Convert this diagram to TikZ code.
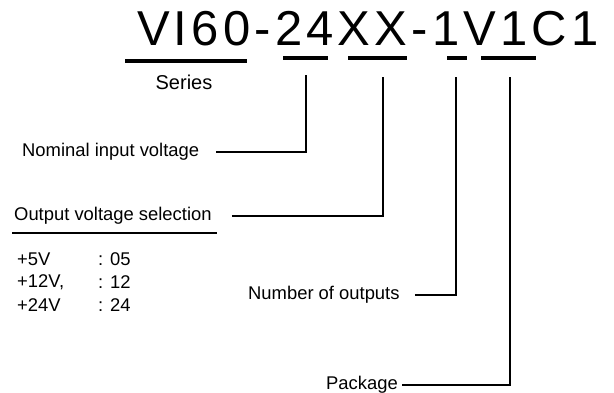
\documentclass[tikz,border=0pt]{standalone}
\usepackage{fontspec}
\setmainfont{Liberation Sans}
\newfontfamily\codefont[LetterSpace=8.5]{Liberation Sans}
\usetikzlibrary{positioning}

\tikzset{
  lbl/.style={font=\fontsize{18.4}{21}\selectfont, inner sep=0pt},
  bar/.style={line width=4.5pt},
  lead/.style={line width=1.1pt}
}

\begin{document}
\begin{tikzpicture}[x=1pt,y=-1pt]
		\useasboundingbox (0,0) rectangle (614,393);
		% model code
		\node[anchor=base west, inner sep=0pt, font=\codefont\fontsize{49}{54}\selectfont] (code) at (137,46) {VI60-24XX-1V1C1};
		\draw[bar](125,61) -- (247,61);
		\draw[bar](283,58) -- (328,58);
		\draw[bar](348,58) -- (407,58);
		\draw[bar](447,58) -- (467,58);
		\draw[bar](481,58) -- (536,58);
		\node[lbl, font=\fontsize{20}{24}\selectfont] (series) at (184,82) {Series};
		% tick tops
		\coordinate (t24) at (306,75);
		\coordinate (txx) at (383,77);
		\coordinate (t1) at (456,77);
		\coordinate (tv1) at (510,77);
		% labels
		\node[lbl, anchor=west] (nom) at (22,152) {Nominal input voltage};
		\node[lbl, anchor=west] (outv) at (14,216) {Output voltage selection};
		\node[lbl, anchor=west] (v5) at (17,259) {+5V};
		\node[lbl, anchor=west] (v12) at (17,282) {+12V,};
		\node[lbl, anchor=west] (v24) at (17,305) {+24V};
		\node[lbl, anchor=west] (c5) at (98,259) {: 05};
		\node[lbl, anchor=west] (c12) at (98,282) {: 12};
		\node[lbl, anchor=west] (c24) at (98,305) {: 24};
		\node[lbl, anchor=west] (num) at (248,295) {Number of outputs};
		\node[lbl, anchor=east] (pkg) at (398,385) {Package};
		% leads
		\draw[lead](12,233) -- (217,233);
		\draw[lead]([xshift=17pt]nom.east) -| (t24);
		\draw[lead]([xshift=20pt]outv.east) -| (txx);
		\draw[lead]([xshift=15pt]num.east) -| (t1);
		\draw[lead]([xshift=4pt]pkg.east) -| (tv1);
	\end{tikzpicture}
\end{document}
